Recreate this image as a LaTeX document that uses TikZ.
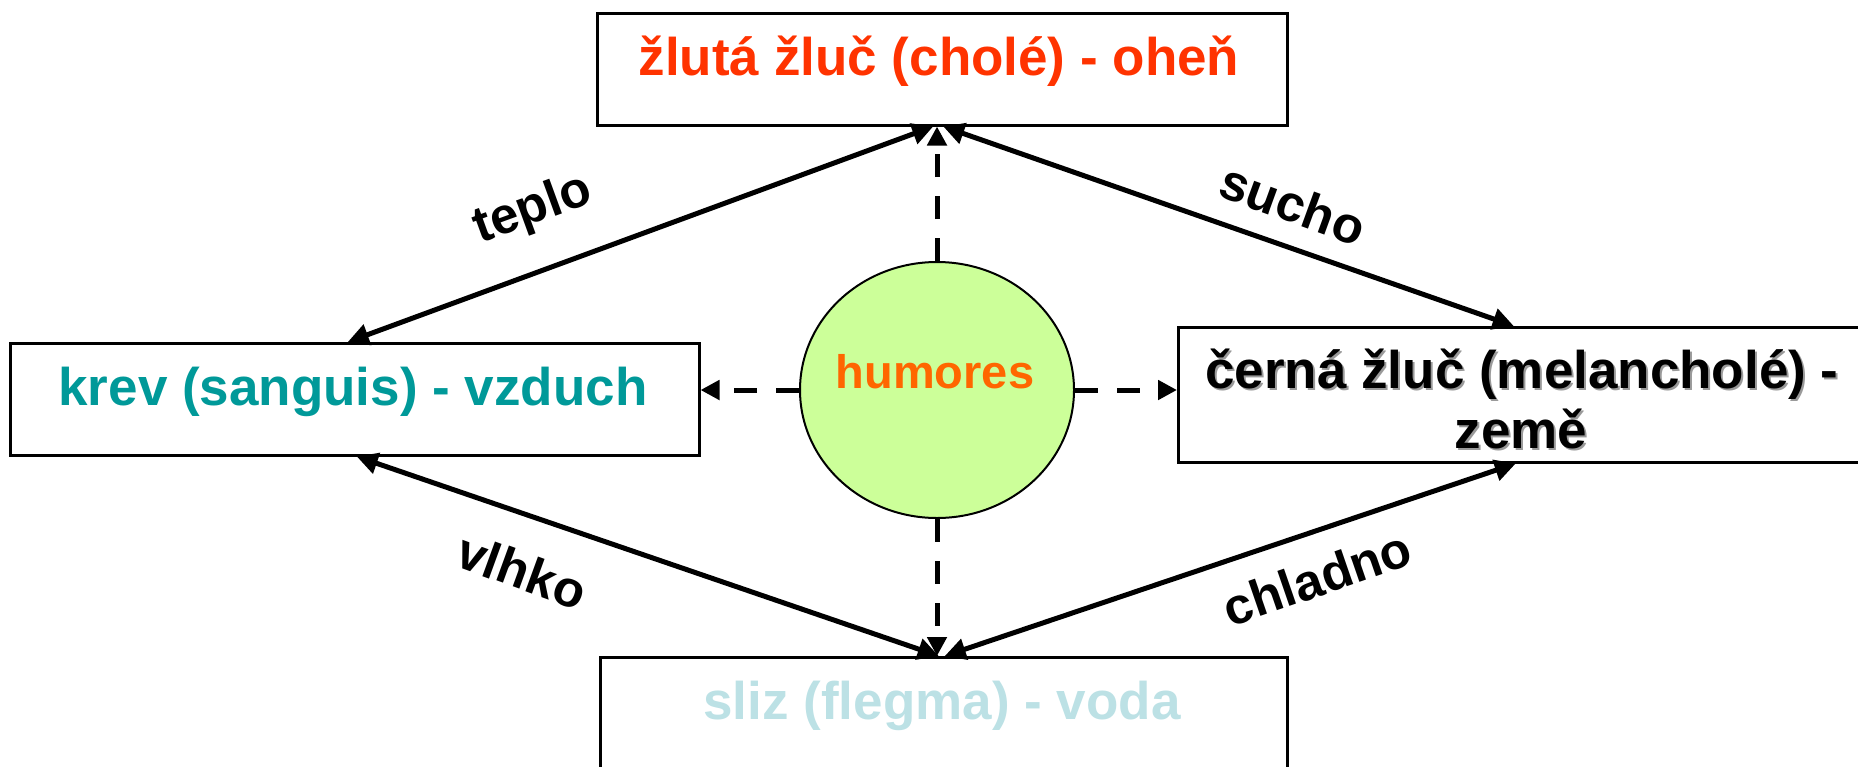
\documentclass[tikz,border=0pt]{standalone}
\usepackage{fontspec}
\setmainfont{Liberation Sans}
\usetikzlibrary{arrows.meta,shapes.geometric}
\definecolor{firecol}{HTML}{FF3300}
\definecolor{bloodcol}{HTML}{009999}
\definecolor{watercol}{HTML}{BCE1E5}
\definecolor{humcol}{HTML}{FF6600}
\definecolor{humfill}{HTML}{CCFF99}
\definecolor{shadowcol}{HTML}{9A9A9A}
\begin{document}
\begin{tikzpicture}[x=1pt,y=-1pt,
  box/.style={draw=black, line width=2.5pt, fill=white, inner sep=0pt, anchor=north west},
  big/.style={font=\fontsize{53}{60}\selectfont\bfseries, anchor=base, inner sep=0pt},
  lbl/.style={font=\fontsize{51}{58}\selectfont\bfseries, inner sep=0pt},
  humlbl/.style={font=\fontsize{47}{54}\selectfont\bfseries, inner sep=0pt},
  twoway/.style={line width=5pt, {Triangle[length=21pt,width=21pt]}-{Triangle[length=21pt,width=21pt]}},
  dasharrow/.style={line width=5pt, dash pattern=on 23pt off 19pt, -{Triangle[length=19pt,width=19pt]}}]
\useasboundingbox (0,0) rectangle (1858,766);
% boxes
\node[box, minimum width=690pt, minimum height=112pt] (top) at (596,12) {};
\node[box, minimum width=689pt, minimum height=112pt] (left) at (9,342) {};
\node[box, minimum width=693pt, minimum height=135pt] (right) at (1177,326) {};
\node[box, minimum width=687pt, minimum height=130pt] (bot) at (599,656) {};
% centre
\node[ellipse, draw=black, line width=2pt, fill=humfill, minimum width=274pt, minimum height=256pt, inner sep=0pt] (hum) at (937,390) {};
% dashed arrows
\draw[dasharrow] (hum.north) -- (hum.north |- top.south);
\draw[dasharrow] (hum.west) -- (hum.west -| left.east);
\draw[dasharrow] (hum.east) -- (hum.east -| right.west);
\draw[dasharrow] (hum.south) -- (hum.south |- bot.north);
% solid arrows
\draw[twoway] ([xshift=-7pt]left.north) -- ([xshift=-9pt]top.south);
\draw[twoway] ([xshift=1pt]top.south) -- ([xshift=-11pt]right.north);
\draw[twoway] ([xshift=2pt]left.south) -- ([xshift=-5pt]bot.north);
\draw[twoway] ([xshift=-9pt]right.south) -- ([xshift=1pt]bot.north);
% texts
\node[big, text=firecol] (toptext) at (939,75) {žlutá žluč (cholé) - oheň};
\node[big, text=bloodcol] (lefttext) at (353,405) {krev (sanguis) - vzduch};
\node[big, text=shadowcol] (rightshadow1) at (1524,390) {černá žluč (melancholé) -};
\node[big, text=shadowcol] (rightshadow2) at (1523,450) {země};
\node[big, text=black] (righttext1) at (1522,388) {černá žluč (melancholé) -};
\node[big, text=black] (righttext2) at (1521,448) {země};
\node[big, text=watercol] (bottext) at (942,719) {sliz (flegma) - voda};
\node[humlbl, anchor=base, text=humcol] (humtext) at (935,388) {humores};
% edge labels
\node[lbl, rotate=20] (teplo) at (533,210) {teplo};
\node[lbl, rotate=-20] (sucho) at (1293,204) {sucho};
\node[lbl, rotate=-20] (vlhko) at (522,571) {vlhko};
\node[lbl, rotate=19] (chladno) at (1317,578) {chladno};
\end{tikzpicture}
\end{document}
